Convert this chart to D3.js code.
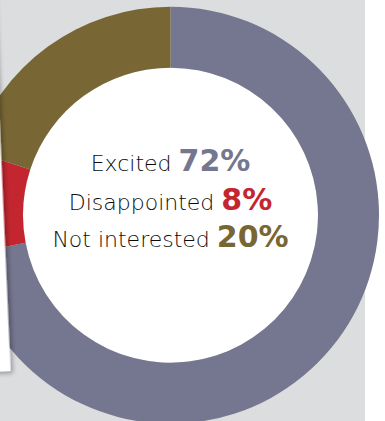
<!DOCTYPE html>
<html>
<head>
<meta charset="utf-8">
<script src="https://cdn.jsdelivr.net/npm/d3@7"></script>
<style>
  html, body { margin: 0; padding: 0; background: #ffffff; }
  svg { display: block; }
</style>
</head>
<body>
<svg id="chart" width="385" height="421"></svg>
<script>
// Survey responses
const categories = ["Excited", "Disappointed", "Not interested"];
const shares = [72, 8, 20];
const valueLabels = ["72%", "8%", "20%"];
const colors = ["#75768f", "#c3262f", "#786734"];

const W = 385, H = 421;
const cx = 170.5, cy = 215.2;
const outerR = 208.5, innerR = 147.5;

const svg = d3.select("#chart");

// soft drop shadow for the paper card
const defs = svg.append("defs");
const f = defs.append("filter").attr("id", "cardShadow")
  .attr("x", "-20%").attr("y", "-20%").attr("width", "140%").attr("height", "140%");
f.append("feGaussianBlur").attr("in", "SourceAlpha").attr("stdDeviation", 2.5).attr("result", "b");
f.append("feOffset").attr("in", "b").attr("dx", 2).attr("dy", 2).attr("result", "o");
f.append("feComponentTransfer").attr("in", "o").attr("result", "s")
  .append("feFuncA").attr("type", "linear").attr("slope", 0.35);
const m = f.append("feMerge");
m.append("feMergeNode").attr("in", "s");
m.append("feMergeNode").attr("in", "SourceGraphic");

// page panels
svg.append("rect").attr("x", 0).attr("y", 0).attr("width", W).attr("height", H).attr("fill", "#ffffff");
svg.append("rect").attr("x", 0).attr("y", 0).attr("width", 365).attr("height", H).attr("fill", "#dcdddf");

// donut
const pie = d3.pie().sort(null).value(d => d).startAngle(0).endAngle(2 * Math.PI);
const arc = d3.arc().innerRadius(innerR).outerRadius(outerR);

const g = svg.append("g").attr("transform", `translate(${cx},${cy})`);
g.append("circle").attr("r", innerR).attr("fill", "#ffffff");
g.selectAll("path.slice")
  .data(pie(shares))
  .join("path")
  .attr("class", "slice")
  .attr("d", arc)
  .attr("fill", (d, i) => colors[i]);

// tilted paper card on the left edge
svg.append("rect")
  .attr("x", -300).attr("y", -100)
  .attr("width", 310.5).attr("height", 471)
  .attr("fill", "#ffffff")
  .attr("transform", "rotate(-2.5, 10.5, 371)")
  .attr("filter", "url(#cardShadow)");

// centre legend lines
const baselines = [171, 210, 247];
const txt = svg.append("g")
  .attr("text-anchor", "middle");

categories.forEach((c, i) => {
  const t = txt.append("text")
    .attr("x", cx)
    .attr("y", baselines[i]);
  t.append("tspan")
    .attr("font-family", "'DejaVu Sans', sans-serif")
    .attr("font-weight", 300)
    .attr("font-size", 22)
    .attr("fill", "#0d0b0c")
    .text(c + " ");
  t.append("tspan")
    .attr("font-family", "'DejaVu Sans', sans-serif")
    .attr("font-weight", 700)
    .attr("font-size", 30)
    .attr("fill", colors[i])
    .text(valueLabels[i]);
});
</script>
</body>
</html>
